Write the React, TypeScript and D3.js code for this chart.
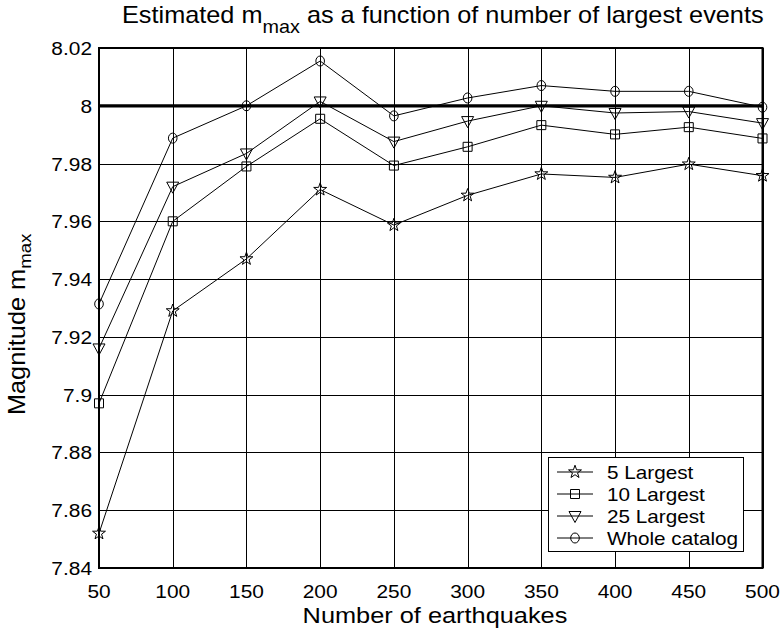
import React from "react";
import * as d3 from "d3";

const counts = [50, 100, 150, 200, 250, 300, 350, 400, 450, 500];
const largest5 = [7.852, 7.929, 7.947, 7.971, 7.9587, 7.969, 7.9764, 7.9752, 7.9798, 7.9758];
const largest10 = [7.897, 7.960, 7.979, 7.9955, 7.9793, 7.9858, 7.9933, 7.9901, 7.9926, 7.9887];
const largest25 = [7.916, 7.972, 7.9835, 8.0015, 7.9876, 7.9947, 8.0, 7.9975, 7.998, 7.994];
const wholeCatalog = [7.9314, 7.9888, 8.0, 8.0155, 7.9965, 8.0027, 8.007, 8.005, 8.005, 7.9995];

const xTicks = [50, 100, 150, 200, 250, 300, 350, 400, 450, 500];
const yTicks = [7.84, 7.86, 7.88, 7.9, 7.92, 7.94, 7.96, 7.98, 8, 8.02];
const yTickLabels = ["7.84", "7.86", "7.88", "7.9", "7.92", "7.94", "7.96", "7.98", "8", "8.02"];
const seriesNames = ["5 Largest", "10 Largest", "25 Largest", "Whole catalog"];
const referenceLevel = 8;

const W = 782;
const H = 632;
const L = 99, R = 762.5, T = 48, B = 568;
const FONT = "'Liberation Sans', Arial, Helvetica, sans-serif";

const x = d3.scaleLinear().domain([50, 500]).range([L, R]);
const y = d3.scaleLinear().domain([7.84, 8.02]).range([B, T]);

const starPath = (() => {
  const pts: [number, number][] = [];
  for (let i = 0; i < 10; i++) {
    const r = i % 2 === 0 ? 6.8 : 2.7;
    const a = -Math.PI / 2 + (i * Math.PI) / 5;
    pts.push([r * Math.cos(a), r * Math.sin(a)]);
  }
  return "M" + pts.map((p) => p.join(",")).join("L") + "Z";
})();
const squarePath = "M-4.5,-4.5L4.5,-4.5L4.5,4.5L-4.5,4.5Z";
const triPath = "M-6,-4.5L6,-4.5L0,6.5Z";

function Marker({ kind, cx, cy }: { kind: number; cx: number; cy: number }) {
  const common = { fill: "none", stroke: "#000", strokeWidth: 1 };
  if (kind === 3) return <ellipse cx={cx} cy={cy} rx={4.3} ry={5} {...common} />;
  const d = kind === 0 ? starPath : kind === 1 ? squarePath : triPath;
  return <path d={d} transform={`translate(${cx},${cy})`} {...common} />;
}

function T2({ x: tx, y: ty, sx = 1.15, size, anchor = "start", rotate = 0, children }: any) {
  const tr = `translate(${tx},${ty})` + (rotate ? ` rotate(${rotate})` : "") + ` scale(${sx},1)`;
  return (
    <text transform={tr} fontSize={size} textAnchor={anchor} fontFamily={FONT} fill="#000">
      {children}
    </text>
  );
}

export default function App() {
  const series = [largest5, largest10, largest25, wholeCatalog];
  const line = d3
    .line<number>()
    .x((_, i) => x(counts[i]))
    .y((d) => y(d));

  const legX = 548, legY = 457, legW = 195, legH = 94;
  const rowY = [472, 494, 516, 538];

  return (
    <svg
      width={W}
      height={H}
      style={{ position: "absolute", left: 0, top: 0, background: "#fff" }}
    >
      <rect x={0} y={0} width={W} height={H} fill="#fff" />
      {/* grid */}
      {xTicks.map((t) => (
        <line key={"gx" + t} x1={Math.round(x(t)) + 0.5} x2={Math.round(x(t)) + 0.5} y1={T} y2={B} stroke="#000" strokeWidth={1} />
      ))}
      {yTicks.map((t) => (
        <line key={"gy" + t} x1={L} x2={R} y1={Math.round(y(t)) + 0.5} y2={Math.round(y(t)) + 0.5} stroke="#000" strokeWidth={1} />
      ))}
      {/* reference line */}
      <line x1={L} x2={R} y1={y(referenceLevel)} y2={y(referenceLevel)} stroke="#000" strokeWidth={3.2} />
      {/* series */}
      {series.map((s, k) => (
        <g key={"s" + k}>
          <path d={line(s) || ""} fill="none" stroke="#000" strokeWidth={1} />
          {s.map((v, i) => (
            <Marker key={i} kind={k} cx={x(counts[i])} cy={y(v)} />
          ))}
        </g>
      ))}
      {/* box */}
      <rect x={L} y={T} width={R - L} height={B - T} fill="none" stroke="#000" strokeWidth={2} />
      {/* tick labels */}
      {xTicks.map((t) => (
        <T2 key={"xl" + t} x={x(t)} y={598} size={18} sx={1.16} anchor="middle">
          {String(t)}
        </T2>
      ))}
      {yTicks.map((t, i) => (
        <T2 key={"yl" + t} x={92} y={y(t) + 7} size={18} sx={1.16} anchor="end">
          {yTickLabels[i]}
        </T2>
      ))}
      {/* axis labels */}
      <T2 x={435} y={623} size={22.3} sx={1.137} anchor="middle">
        Number of earthquakes
      </T2>
      <T2 x={25} y={415} size={23} sx={1.1} rotate={-90}>
        Magnitude m
        <tspan fontSize={17} dy={6}>max</tspan>
      </T2>
      {/* title */}
      <T2 x={122} y={23} size={23} sx={1.1}>
        Estimated m
        <tspan fontSize={18} dy={9.5}>max</tspan>
        <tspan dy={-9.5}> as a function of number of largest events</tspan>
      </T2>
      {/* legend */}
      <rect x={legX + 0.5} y={legY + 0.5} width={legW} height={legH} fill="#fff" stroke="#000" strokeWidth={1} />
      {seriesNames.map((n, k) => (
        <g key={"lg" + k}>
          <line x1={557} x2={593} y1={rowY[k]} y2={rowY[k]} stroke="#000" strokeWidth={1} />
          <Marker kind={k} cx={575} cy={rowY[k]} />
          <T2 x={607} y={rowY[k] + 6.5} size={18} sx={1.15}>
            {n}
          </T2>
        </g>
      ))}
    </svg>
  );
}
